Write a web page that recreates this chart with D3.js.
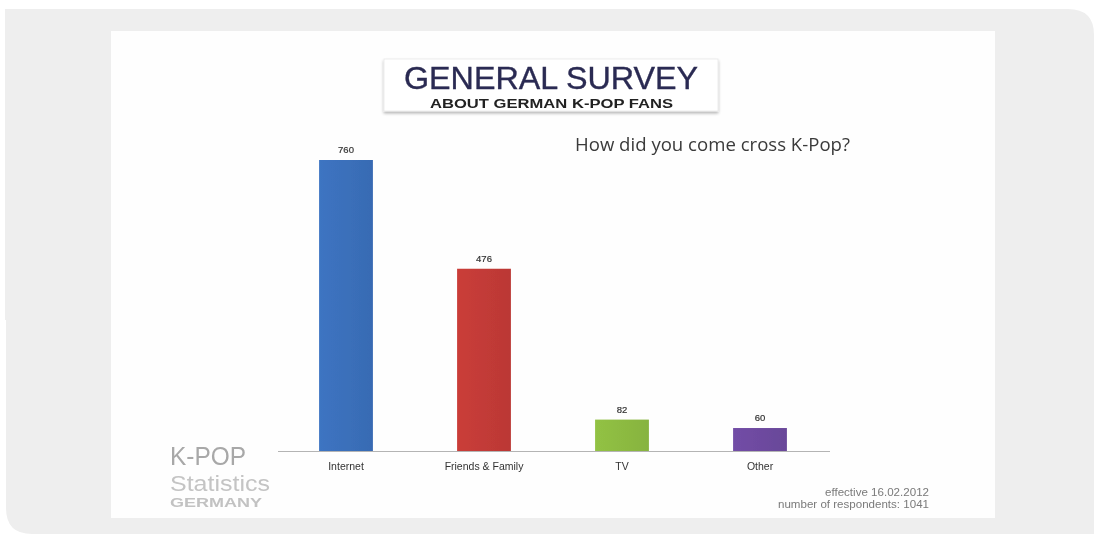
<!DOCTYPE html>
<html>
<head>
<meta charset="utf-8">
<script src="https://cdn.jsdelivr.net/npm/d3@7/dist/d3.min.js"></script>
<style>
  html, body { margin: 0; padding: 0; background: #ffffff; }
  svg { display: block; }
</style>
</head>
<body>
<svg id="chart" width="1094" height="535"></svg>
<script>
// Survey answers: "How did you come cross K-Pop?"
const categories = ["Internet", "Friends & Family", "TV", "Other"];
const respondents = [760, 476, 82, 60];
const barColors = ["#3a6fba", "#c23a37", "#8cba41", "#6d4a9f"];
const titleLines = ["GENERAL SURVEY", "ABOUT GERMAN K-POP FANS"];
const question = "How did you come cross K-Pop?";
const footnotes = ["effective 16.02.2012", "number of respondents: 1041"];

const svg = d3.select("#chart");
const defs = svg.append("defs");

// soft focus on the slide artwork
defs.append("filter").attr("id", "soft")
  .attr("x", "-5%").attr("y", "-5%").attr("width", "110%").attr("height", "110%")
  .append("feGaussianBlur").attr("stdDeviation", 0.6);

// shadow under the title box
const sh = defs.append("filter").attr("id", "boxshadow")
  .attr("x", "-5%").attr("y", "-20%").attr("width", "110%").attr("height", "150%");
sh.append("feGaussianBlur").attr("in", "SourceAlpha").attr("stdDeviation", 1.5);
sh.append("feOffset").attr("dy", 1.5).attr("result", "b");
sh.append("feComponentTransfer").append("feFuncA").attr("type", "linear").attr("slope", 0.3);
const m = sh.append("feMerge");
m.append("feMergeNode");
m.append("feMergeNode").attr("in", "SourceGraphic");

// bar shading: slightly lighter on the left edge
barColors.forEach((c, i) => {
  const g = defs.append("linearGradient").attr("id", "bar" + i)
    .attr("x1", "0").attr("x2", "1").attr("y1", "0").attr("y2", "0");
  g.append("stop").attr("offset", "0").attr("stop-color", d3.color(c).brighter(0.12));
  g.append("stop").attr("offset", "1").attr("stop-color", d3.color(c).darker(0.1));
});

// grey page backdrop with rounded corners
const bg = d3.path();
bg.moveTo(5, 9);
bg.lineTo(1068, 9);
bg.quadraticCurveTo(1094, 9, 1094, 35);
bg.lineTo(1094, 534);
bg.lineTo(32, 534);
bg.quadraticCurveTo(6, 534, 6, 508);
bg.lineTo(6, 320);
bg.lineTo(5, 320);
bg.closePath();
svg.append("path").attr("d", bg.toString()).attr("fill", "#eeeeee");

// white slide
svg.append("rect").attr("x", 111).attr("y", 31).attr("width", 884).attr("height", 487)
  .attr("fill", "#fefefe");

const slide = svg.append("g").attr("filter", "url(#soft)");

// title box
slide.append("rect").attr("x", 384).attr("y", 59).attr("width", 334).attr("height", 52)
  .attr("fill", "#ffffff").attr("stroke", "#e8e8e8").attr("stroke-width", 0.8)
  .attr("filter", "url(#boxshadow)");

slide.append("text").text(titleLines[0])
  .attr("x", 404).attr("y", 89)
  .attr("textLength", 294).attr("lengthAdjust", "spacingAndGlyphs")
  .attr("font-family", "'Liberation Sans', Arial, sans-serif")
  .attr("font-size", 31).attr("fill", "#2b2b52")
  .attr("stroke", "#2b2b52").attr("stroke-width", 0.35);

slide.append("text").text(titleLines[1])
  .attr("x", 430).attr("y", 108)
  .attr("textLength", 243).attr("lengthAdjust", "spacingAndGlyphs")
  .attr("font-family", "'Liberation Sans', Arial, sans-serif")
  .attr("font-weight", "bold").attr("font-size", 13.5).attr("fill", "#222222");

slide.append("text").text(question)
  .attr("x", 575).attr("y", 151)
  .attr("textLength", 275).attr("lengthAdjust", "spacingAndGlyphs")
  .attr("font-family", "'Open Sans', 'Noto Sans', sans-serif")
  .attr("font-size", 18).attr("fill", "#3a3a3a");

// scales
const x = d3.scaleBand().domain(categories).range([277, 829])
  .paddingInner(0.61).paddingOuter(0.305);
const y = d3.scaleLinear().domain([0, 760]).range([451, 160]);

// bars
slide.selectAll("rect.bar").data(categories).join("rect")
  .attr("class", "bar")
  .attr("x", d => x(d))
  .attr("width", x.bandwidth())
  .attr("y", (d, i) => y(respondents[i]))
  .attr("height", (d, i) => y(0) - y(respondents[i]))
  .attr("fill", (d, i) => `url(#bar${i})`);

// value labels
slide.selectAll("text.val").data(categories).join("text")
  .attr("class", "val")
  .attr("x", d => x(d) + x.bandwidth() / 2)
  .attr("y", (d, i) => y(respondents[i]) - 7)
  .attr("text-anchor", "middle")
  .attr("font-family", "'Liberation Sans', Arial, sans-serif")
  .attr("font-size", 9.5).attr("fill", "#333333")
  .attr("stroke", "#333333").attr("stroke-width", 0.2)
  .text((d, i) => respondents[i]);

// category axis
const axis = slide.append("g").attr("transform", `translate(0,${y(0)})`)
  .call(d3.axisBottom(x).tickSize(0).tickPadding(11.5));
axis.select(".domain").attr("stroke", "#b4b4b4").attr("stroke-width", 1.2)
  .attr("d", "M278,0.5H830");
axis.selectAll("text")
  .attr("font-family", "'Liberation Sans', Arial, sans-serif")
  .attr("font-size", 10.5).attr("fill", "#333333");

// brand mark
slide.append("text").text("K-POP")
  .attr("x", 170).attr("y", 465)
  .attr("textLength", 76).attr("lengthAdjust", "spacingAndGlyphs")
  .attr("font-family", "'Liberation Sans', Arial, sans-serif")
  .attr("font-size", 26).attr("fill", "#a8a8a8");
slide.append("text").text("Statistics")
  .attr("x", 170).attr("y", 491)
  .attr("textLength", 100).attr("lengthAdjust", "spacingAndGlyphs")
  .attr("font-family", "'Liberation Sans', Arial, sans-serif")
  .attr("font-size", 22).attr("fill", "#c4c4c4");
slide.append("text").text("GERMANY")
  .attr("x", 170).attr("y", 507)
  .attr("textLength", 92).attr("lengthAdjust", "spacingAndGlyphs")
  .attr("font-family", "'Liberation Sans', Arial, sans-serif")
  .attr("font-weight", "bold").attr("font-size", 12).attr("fill", "#c2c2c2");

// footnotes
const noteWidths = [104, 151];
slide.selectAll("text.note").data(footnotes).join("text")
  .attr("class", "note")
  .attr("x", 929)
  .attr("y", (d, i) => 496 + i * 11.5)
  .attr("text-anchor", "end")
  .attr("textLength", (d, i) => noteWidths[i]).attr("lengthAdjust", "spacingAndGlyphs")
  .attr("font-family", "'Liberation Sans', Arial, sans-serif")
  .attr("font-size", 10).attr("fill", "#7a7a7a")
  .text(d => d);
</script>
</body>
</html>
